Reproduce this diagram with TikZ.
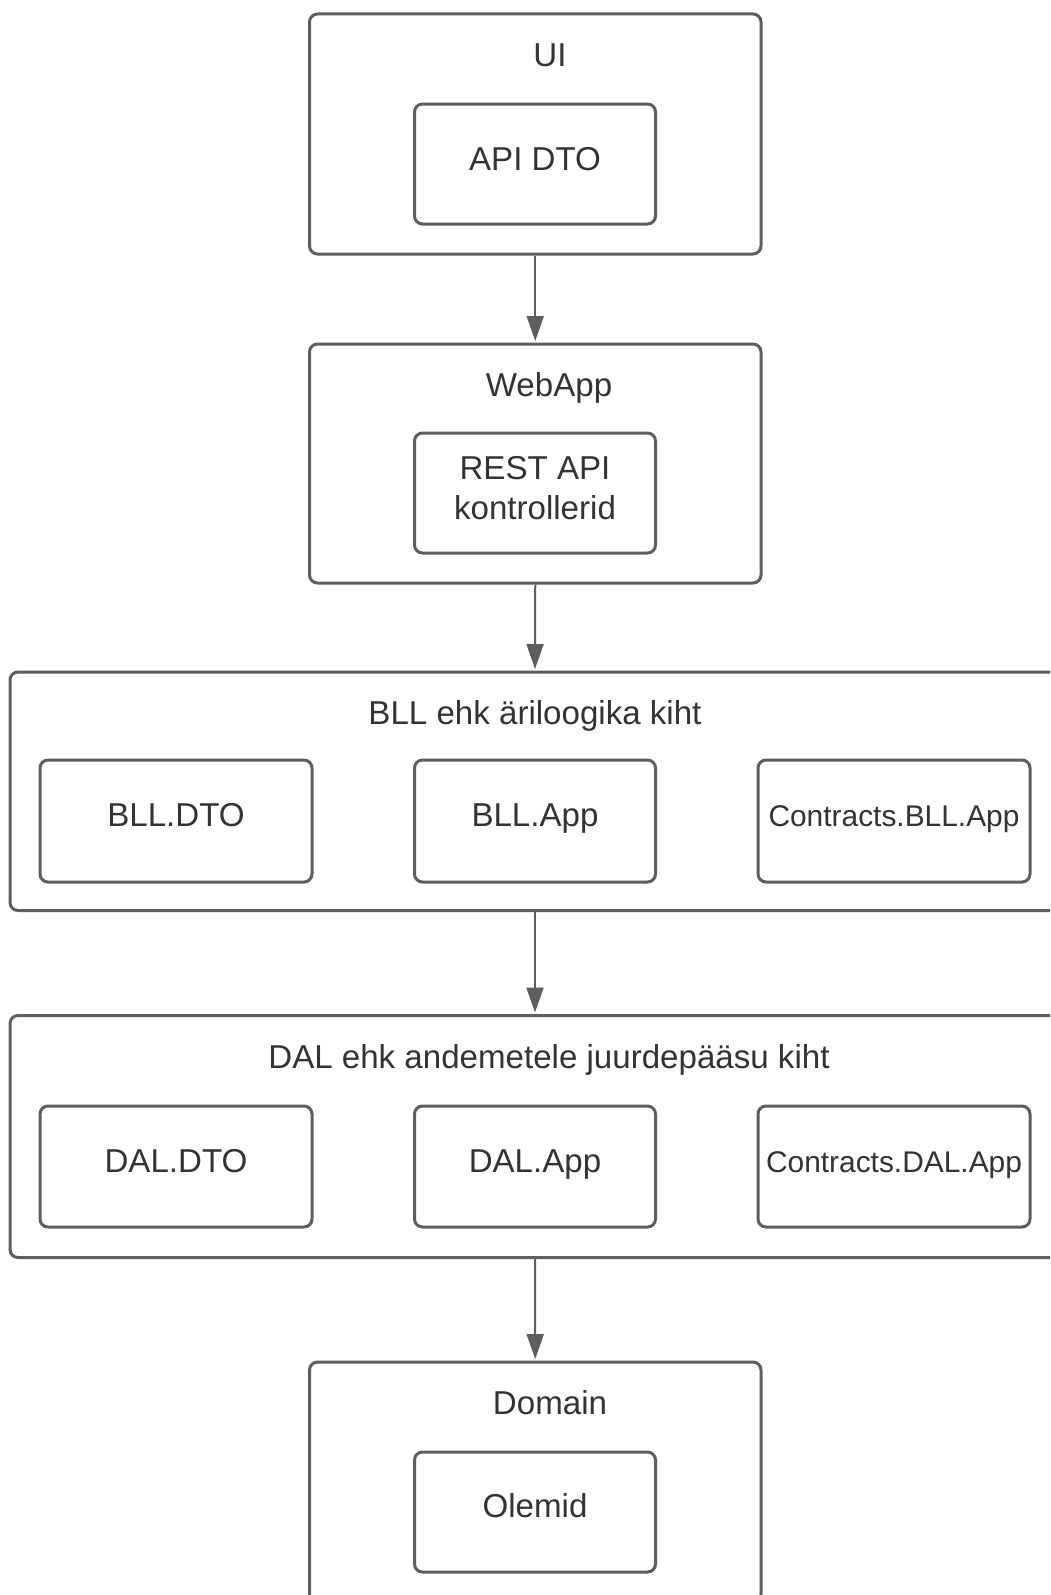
\documentclass[tikz,border=0pt]{standalone}
\usepackage{fontspec}
\setmainfont{Liberation Sans}
\usetikzlibrary{arrows.meta}
\definecolor{edge}{HTML}{5E5E5E}
\definecolor{ink}{HTML}{333333}
\tikzset{
  layerbox/.style={draw=edge, line width=3pt, rounded corners=8pt, fill=white, inner sep=0pt},
  partbox/.style={draw=edge, line width=3pt, rounded corners=8pt, fill=white, inner sep=0pt,
    minimum width=241pt, minimum height=120pt},
  txt/.style={anchor=base, inner sep=0pt, text=ink, font=\fontsize{33.1}{40}\selectfont},
  smalltxt/.style={txt, font=\fontsize{29.9}{36}\selectfont},
  flow/.style={draw=edge, line width=2pt, -{Triangle[length=25pt,width=17pt]}, shorten >=1.5pt},
}
\begin{document}
\begin{tikzpicture}[x=1pt, y=-1pt]
\useasboundingbox (0,0) rectangle (1050,1595);
\clip (0,0) rectangle (1050,1595);
\fill[white] (0,0) rectangle (1050,1595);

% layers
\node[layerbox, minimum width=451.5pt, minimum height=240pt] (ui) at (535.25,134) {};
\node[layerbox, minimum width=451.5pt, minimum height=239pt] (web) at (535.25,463.5) {};
\node[layerbox, minimum width=1050pt, minimum height=238.5pt] (bll) at (535,791.25) {};
\node[layerbox, minimum width=1050pt, minimum height=242pt] (dal) at (535,1136.5) {};
\node[layerbox, minimum width=451.5pt, minimum height=240pt] (dom) at (535.25,1482) {};

% layer titles
\node[txt] (uiT) at (550,66.5) {UI};
\node[txt] (webT) at (549,396.5) {WebApp};
\node[txt] (bllT) at (535,724.5) {BLL ehk äriloogika kiht};
\node[txt] (dalT) at (549,1068) {DAL ehk andemetele juurdepääsu kiht};
\node[txt] (domT) at (550,1414.5) {Domain};

% parts inside the layers
\node[partbox] (apidto) at (535,164) {};
\node[txt] (apidtoT) at (535,170) {API DTO};

\node[partbox] (rest) at (535,493) {};
\node[anchor=center, inner sep=0pt, text=ink, align=center,
      font=\fontsize{33.1}{40}\selectfont] (restT) at (535,488) {REST API\\kontrollerid};

\node[partbox, minimum width=272pt, minimum height=122pt] (blldto) at (176,821) {};
\node[txt] (blldtoT) at (176,826.7) {BLL.DTO};
\node[partbox, minimum height=122pt] (bllapp) at (535,821) {};
\node[txt] (bllappT) at (535,826.7) {BLL.App};
\node[partbox, minimum width=272pt, minimum height=122pt] (cbll) at (894,821) {};
\node[smalltxt] (cbllT) at (894,826.7) {Contracts.BLL.App};

\node[partbox, minimum width=272pt, minimum height=121pt] (daldto) at (176,1166.5) {};
\node[txt] (daldtoT) at (176,1172.5) {DAL.DTO};
\node[partbox, minimum height=121pt] (dalapp) at (535,1166.5) {};
\node[txt] (dalappT) at (535,1172.5) {DAL.App};
\node[partbox, minimum width=272pt, minimum height=121pt] (cdal) at (894,1166.5) {};
\node[smalltxt] (cdalT) at (894,1172.5) {Contracts.DAL.App};

\node[partbox] (olemid) at (535,1512) {};
\node[txt] (olemidT) at (535,1517) {Olemid};

% dependencies between layers
\draw[flow] (ui.south) -- (web.north);
\draw[flow] (web.south) -- (bll.north);
\draw[flow] (bll.south) -- (dal.north);
\draw[flow] (dal.south) -- (dom.north);
\end{tikzpicture}
\end{document}
